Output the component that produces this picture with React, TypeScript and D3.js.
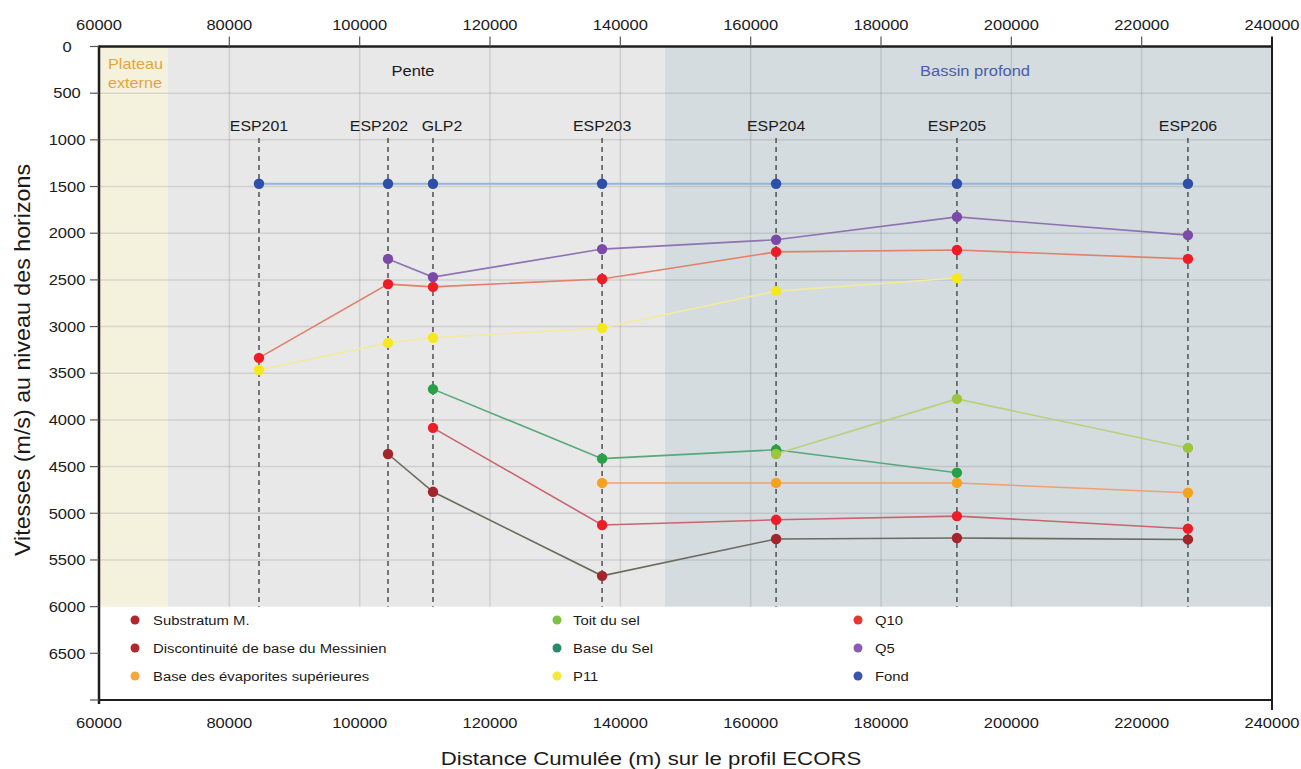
import React, { useEffect } from "react";
import * as d3 from "d3";

// ---------- data ----------
const wells = ["ESP201", "ESP202", "GLP2", "ESP203", "ESP204", "ESP205", "ESP206"];
const wellDistances = [84550, 104350, 111250, 137200, 163900, 191650, 227100];

const fond = [1470, 1470, 1470, 1470, 1470, 1470, 1470];
const q5 = [null, 2275, 2470, 2170, 2070, 1825, 2020];
const q10 = [3335, 2545, 2575, 2490, 2200, 2180, 2275];
const p11 = [3465, 3175, 3120, 3015, 2620, 2480, null];
const toitSel = [null, null, null, null, 4365, 3775, 4300];
const baseSel = [null, null, 3670, 4415, 4320, 4565, null];
const baseEvap = [null, null, null, 4675, 4675, 4675, 4780];
const discontinuite = [null, null, 4085, 5125, 5070, 5030, 5165];
const substratum = [null, 4365, 4770, 5670, 5275, 5265, 5280];

const xTicks = [60000, 80000, 100000, 120000, 140000, 160000, 180000, 200000, 220000, 240000];
const yTicks = [0, 500, 1000, 1500, 2000, 2500, 3000, 3500, 4000, 4500, 5000, 5500, 6000, 6500, 7000];
const yTickLabels = ["0", "500", "1000", "1500", "2000", "2500", "3000", "3500", "4000", "4500", "5000", "5500", "6000", "6500", ""];

const zoneNames = ["Plateau externe", "Pente", "Bassin profond"];
const zoneBounds = [60000, 70600, 146800, 240000];

const series = [
  { name: "Substratum M.", values: substratum, line: "#6b6a5e", dot: "#a3252b", legend: "#b3262b" },
  { name: "Discontinuité de base du Messinien", values: discontinuite, line: "#c9646e", dot: "#ec1d27", legend: "#b3262b" },
  { name: "Base des évaporites supérieures", values: baseEvap, line: "#eea072", dot: "#f7a21d", legend: "#f6a93b" },
  { name: "Toit du sel", values: toitSel, line: "#b9d07c", dot: "#9dc53e", legend: "#7dc243" },
  { name: "Base du Sel", values: baseSel, line: "#55a87a", dot: "#28a047", legend: "#2b8a6b" },
  { name: "P11", values: p11, line: "#f2ea9e", dot: "#f6e81e", legend: "#f7e63c" },
  { name: "Q10", values: q10, line: "#e2806a", dot: "#ee1d25", legend: "#e8352b" },
  { name: "Q5", values: q5, line: "#8f72b2", dot: "#7b49a8", legend: "#8a5db5" },
  { name: "Fond", values: fond, line: "#93b5dc", dot: "#2e4fa8", legend: "#3a55b0" },
];

// draw order: bottom first
const drawOrder = ["Fond", "Q5", "Q10", "P11", "Substratum M.", "Discontinuité de base du Messinien", "Base des évaporites supérieures", "Base du Sel", "Toit du sel"];

const FONT = "'Liberation Sans', Arial, Helvetica, sans-serif";

function Label({ x, y, size = 15, fill = "#1a1a1a", anchor = "middle", sx = 1.1, children }: any) {
  return (
    <text
      transform={`translate(${x},${y}) scale(${sx},1)`}
      textAnchor={anchor}
      dominantBaseline="central"
      fontSize={size}
      fontFamily={FONT}
      fill={fill}
    >
      {children}
    </text>
  );
}

export default function App() {
  useEffect(() => {
    document.body.style.margin = "0";
  }, []);

  const W = 1301, H = 769;
  const x = d3.scaleLinear().domain([60000, 240000]).range([99, 1272]);
  const y = d3.scaleLinear().domain([0, 7000]).range([46.5, 700]);
  const left = x(60000), right = x(240000), top = y(0), bottom = y(7000), y6000 = y(6000);

  const zoneFill = ["#f4f1dd", "#e8e8e8", "#d4dce0"];
  const lineGen = d3
    .line<{ d: number; v: number }>()
    .x((p) => x(p.d))
    .y((p) => y(p.v));

  // small horizontal nudges so neighbouring well labels do not collide
  const labelShift = (w: string) => (w === "ESP202" ? -9 : w === "GLP2" ? 9 : 0);

  const legendCols = [
    { dot: 135, text: 153, items: ["Substratum M.", "Discontinuité de base du Messinien", "Base des évaporites supérieures"] },
    { dot: 557, text: 573, items: ["Toit du sel", "Base du Sel", "P11"] },
    { dot: 858, text: 875, items: ["Q10", "Q5", "Fond"] },
  ];
  const legendRows = [620, 648, 676];

  return (
    <svg width={W} height={H} style={{ position: "absolute", left: 0, top: 0, background: "#fff" }}>
      {/* zones */}
      {zoneNames.map((z, i) => (
        <rect key={z} x={x(zoneBounds[i])} y={top} width={x(zoneBounds[i + 1]) - x(zoneBounds[i])} height={y6000 - top} fill={zoneFill[i]} />
      ))}
      {/* grid */}
      {yTicks.filter((t) => t > 0 && t < 6000).map((t) => (
        <line key={"gy" + t} x1={left} x2={right} y1={y(t)} y2={y(t)} stroke="#6e6e6e" strokeOpacity={0.2} strokeWidth={1.5} />
      ))}
      {xTicks.filter((t) => t > 60000 && t < 240000).map((t) => (
        <line key={"gx" + t} x1={x(t)} x2={x(t)} y1={top} y2={y6000} stroke="#6e6e6e" strokeOpacity={0.2} strokeWidth={1.5} />
      ))}
      {/* zone labels */}
      <Label x={108} y={64} fill="#e3a540" anchor="start" sx={1.08}>Plateau</Label>
      <Label x={108} y={83} fill="#e3a540" anchor="start" sx={1.08}>externe</Label>
      <Label x={413} y={71} fill="#1a1a1a">{zoneNames[1]}</Label>
      <Label x={975} y={71} fill="#4b5ba8">{zoneNames[2]}</Label>

      {/* wells */}
      {wells.map((w, i) => (
        <g key={w}>
          <line x1={x(wellDistances[i])} x2={x(wellDistances[i])} y1={138} y2={y6000} stroke="#555a60" strokeWidth={1.6} strokeDasharray="5,4" />
          <Label x={x(wellDistances[i]) + labelShift(w)} y={126} size={15} sx={1.06}>{w}</Label>
        </g>
      ))}

      {/* series lines */}
      {drawOrder.map((n) => {
        const s = series.find((q) => q.name === n)!;
        const pts = s.values
          .map((v, i) => ({ d: wellDistances[i], v: v as number }))
          .filter((p) => p.v != null);
        return <path key={"l" + n} d={lineGen(pts) || ""} fill="none" stroke={s.line} strokeWidth={n === "Fond" ? 2 : 1.6} />;
      })}
      {/* dots */}
      {drawOrder.map((n) => {
        const s = series.find((q) => q.name === n)!;
        return (
          <g key={"d" + n}>
            {s.values.map((v, i) =>
              v == null ? null : <circle key={i} cx={x(wellDistances[i])} cy={y(v)} r={5.2} fill={s.dot} />
            )}
          </g>
        );
      })}

      {/* legend area */}
      {legendCols.map((c) =>
        c.items.map((it, r) => {
          const s = series.find((q) => q.name === it)!;
          return (
            <g key={it}>
              <circle cx={c.dot} cy={legendRows[r]} r={4.5} fill={s.legend} />
              <Label x={c.text} y={legendRows[r]} size={13.5} anchor="start" sx={1.1}>{it}</Label>
            </g>
          );
        })
      )}

      {/* axes frame */}
      <line x1={left} x2={right} y1={top} y2={top} stroke="#1e1e1e" strokeWidth={2.5} />
      <line x1={left} x2={right} y1={bottom} y2={bottom} stroke="#1e1e1e" strokeWidth={2} />
      <line x1={left} x2={left} y1={top - 1} y2={bottom + 4} stroke="#1e1e1e" strokeWidth={2.5} />
      <line x1={right} x2={right} y1={top - 10} y2={bottom + 10} stroke="#1e1e1e" strokeWidth={2} />

      {/* top ticks */}
      {xTicks.map((t) => (
        <g key={"tx" + t}>
          {t > 60000 && t < 240000 && <line x1={x(t)} x2={x(t)} y1={top - 10} y2={top} stroke="#555" strokeWidth={1.2} />}
          <Label x={x(t)} y={25} sx={1.1}>{t}</Label>
          <Label x={x(t)} y={723} sx={1.1}>{t}</Label>
        </g>
      ))}
      {/* left ticks */}
      {yTicks.map((t, i) => (
        <g key={"ty" + t}>
          <line x1={left - 9} x2={left} y1={y(t)} y2={y(t)} stroke="#555" strokeWidth={1.2} />
          <Label x={67} y={y(t)} sx={1.1}>{yTickLabels[i]}</Label>
        </g>
      ))}

      {/* axis titles */}
      <Label x={651} y={759} size={18.5} sx={1.2}>Distance Cumulée (m) sur le profil ECORS</Label>
      <text
        transform={`translate(23,360) rotate(-90) scale(1,1.12)`}
        textAnchor="middle"
        dominantBaseline="central"
        fontSize={19}
        fontFamily={FONT}
        fill="#1a1a1a"
        textLength={392}
        lengthAdjust="spacingAndGlyphs"
      >
        Vitesses (m/s) au niveau des horizons
      </text>
    </svg>
  );
}
